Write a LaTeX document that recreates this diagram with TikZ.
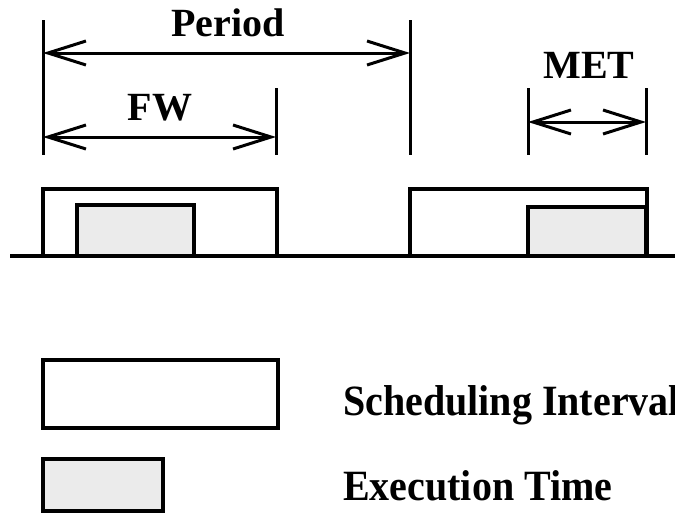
\documentclass[tikz,border=0pt]{standalone}
\usepackage{fontspec}
\setmainfont{Liberation Serif}
\usetikzlibrary{arrows.meta}
\begin{document}
\begin{tikzpicture}[x=1pt,y=-1pt,
  lbl/.style={font=\fontsize{40}{44}\selectfont\bfseries, inner sep=0pt, anchor=base},
  legtxt/.style={font=\fontsize{40}{44}\selectfont\bfseries, inner sep=0pt, anchor=base west, yscale=1.08},
  tick/.style={line width=3pt},
  dim/.style={line width=3pt, {Straight Barb[length=38pt,width=24pt,line width=3pt]}-{Straight Barb[length=38pt,width=24pt,line width=3pt]}},
  interval/.style={line width=3.5pt, line join=miter},
  exec/.style={line width=4pt, fill=black!8},
  base/.style={line width=3.5pt}]
\clip (0,0) rectangle (675,512);
\fill[white] (0,0) rectangle (675,512);
% tick coordinates
\coordinate (pL) at (43,53);
\coordinate (pR) at (410,53);
\coordinate (fL) at (43,137);
\coordinate (fR) at (276,137);
\coordinate (mL) at (528,122);
\coordinate (mR) at (646,122);
% ticks
\draw[tick] (43,20) -- (43,155);
\draw[tick] (410,20) -- (410,155);
\draw[tick] (276,88) -- (276,155);
\draw[tick] (528,88) -- (528,155);
\draw[tick] (646,88) -- (646,155);
% dimension arrows
\draw[dim] (pL) -- (pR);
\draw[dim] (fL) -- (fR);
\draw[dim] (mL) -- (mR);
% labels
\node[lbl] (period) at (228,36) {Period};
\node[lbl] (fw) at (160,120) {FW};
\node[lbl] (met) at (589,78) {MET};
% timeline
\draw[exec] (77,256) rectangle (194,205);
\draw[exec] (528,256) rectangle (646,207);
\draw[interval] (43,256) -- (43,189) -- (277,189) -- (277,256);
\draw[interval] (410,256) -- (410,189) -- (647,189) -- (647,256);
\coordinate (b0) at (10,256);
\coordinate (b1) at (675,256);
\draw[base] (b0) -- (b1);
% legend
\draw[interval] (43,360) rectangle (278,428);
\draw[exec] (43,459) rectangle (163,511);
\node[legtxt] (si) at (343,415) {Scheduling Interval};
\node[legtxt] (et) at (343,500) {Execution Time};
\end{tikzpicture}
\end{document}
